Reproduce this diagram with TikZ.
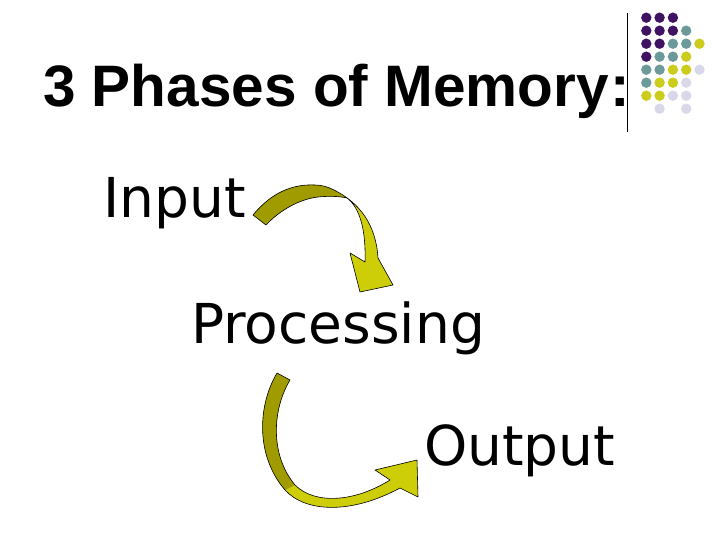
\documentclass[tikz,border=0pt]{standalone}
\usepackage{fontspec}
\setmainfont{Liberation Sans}
\newfontfamily\handfont{DejaVu Sans}
\definecolor{dotpurple}{RGB}{64,18,98}
\definecolor{dotteal}{RGB}{108,154,154}
\definecolor{dotyellow}{RGB}{204,204,28}
\definecolor{dotlilac}{RGB}{216,216,232}
\definecolor{arrowdark}{RGB}{160,156,0}
\definecolor{arrowlight}{RGB}{206,206,8}
\tikzset{
  word/.style={anchor=base west, inner sep=0pt, font=\handfont\fontsize{55}{60}\selectfont},
  bandarrow/.style={draw=black, line width=0.6pt, line join=round},
}
\begin{document}
\begin{tikzpicture}[x=1pt, y=-1pt]
      \useasboundingbox (0,0) rectangle (720,540);
      % Nodes
      \node (title) at (43,107) [anchor=base west, inner sep=0pt, font=\bfseries\fontsize{58.5}{62}\selectfont] {3 Phases of Memory\kern2pt:};
      \node (input) at (103,218) [word] {Input};
      \node (processing) at (191,343) [word] {Processing};
      \node (output) at (424,465) [word] {Output};

      % Rule and dots
      \draw[line width=1pt] (627,13) -- (627,132);
      \foreach \c/\r/\col in {0/0/dotpurple,1/0/dotpurple,2/0/dotpurple,
          0/1/dotpurple,1/1/dotpurple,2/1/dotpurple,3/1/dotteal,
          0/2/dotpurple,1/2/dotpurple,2/2/dotteal,3/2/dotteal,4/2/dotyellow,
          0/3/dotpurple,1/3/dotteal,2/3/dotteal,3/3/dotyellow,
          0/4/dotteal,1/4/dotteal,2/4/dotyellow,3/4/dotyellow,4/4/dotlilac,
          0/5/dotteal,1/5/dotyellow,2/5/dotyellow,3/5/dotlilac,
          0/6/dotyellow,1/6/dotyellow,2/6/dotlilac,3/6/dotlilac,
          1/7/dotlilac,3/7/dotlilac}
        \fill[\col] (646.3+13.3*\c,17.7+13*\r) circle (5.2);

      % Arrows
      \fill[arrowlight] (253,215) .. controls (272,192) and (293,184) .. (315,185)
        .. controls (322,185) and (328,187) .. (334,190)
        .. controls (360,203) and (376,225) .. (378,258)
        -- (393,285) -- (360,292) -- (350,253) -- (365,262)
        .. controls (366,230) and (360,208) .. (347,198)
        .. controls (338,196) and (328,196) .. (318,197)
        .. controls (300,199) and (280,210) .. (266,225) -- cycle;
      \fill[arrowdark] (253,215) .. controls (272,192) and (293,184) .. (315,185)
        .. controls (322,185) and (328,187) .. (334,190) -- (347,198)
        .. controls (338,196) and (328,196) .. (318,197)
        .. controls (300,199) and (280,210) .. (266,225) -- cycle;
      \draw[bandarrow] (253,215) .. controls (272,192) and (293,184) .. (315,185)
        .. controls (322,185) and (328,187) .. (334,190)
        .. controls (360,203) and (376,225) .. (378,258)
        -- (393,285) -- (360,292) -- (350,253) -- (365,262)
        .. controls (366,230) and (360,208) .. (347,198)
        .. controls (338,196) and (328,196) .. (318,197)
        .. controls (300,199) and (280,210) .. (266,225) -- cycle;

      \fill[arrowlight] (277,373) .. controls (258,405) and (255,455) .. (285,490)
        .. controls (305,512) and (350,515) .. (400,488)
        -- (418,497) -- (417,460) -- (375,470) -- (390,480)
        .. controls (355,502) and (315,505) .. (295,485)
        .. controls (270,455) and (272,410) .. (290,380) -- cycle;
      \fill[arrowdark] (277,373) .. controls (258,405) and (255,455) .. (285,490)
        -- (295,485) .. controls (270,455) and (272,410) .. (290,380) -- cycle;
      \draw[bandarrow] (277,373) .. controls (258,405) and (255,455) .. (285,490)
        .. controls (305,512) and (350,515) .. (400,488)
        -- (418,497) -- (417,460) -- (375,470) -- (390,480)
        .. controls (355,502) and (315,505) .. (295,485)
        .. controls (270,455) and (272,410) .. (290,380) -- cycle;
    \end{tikzpicture}
\end{document}
